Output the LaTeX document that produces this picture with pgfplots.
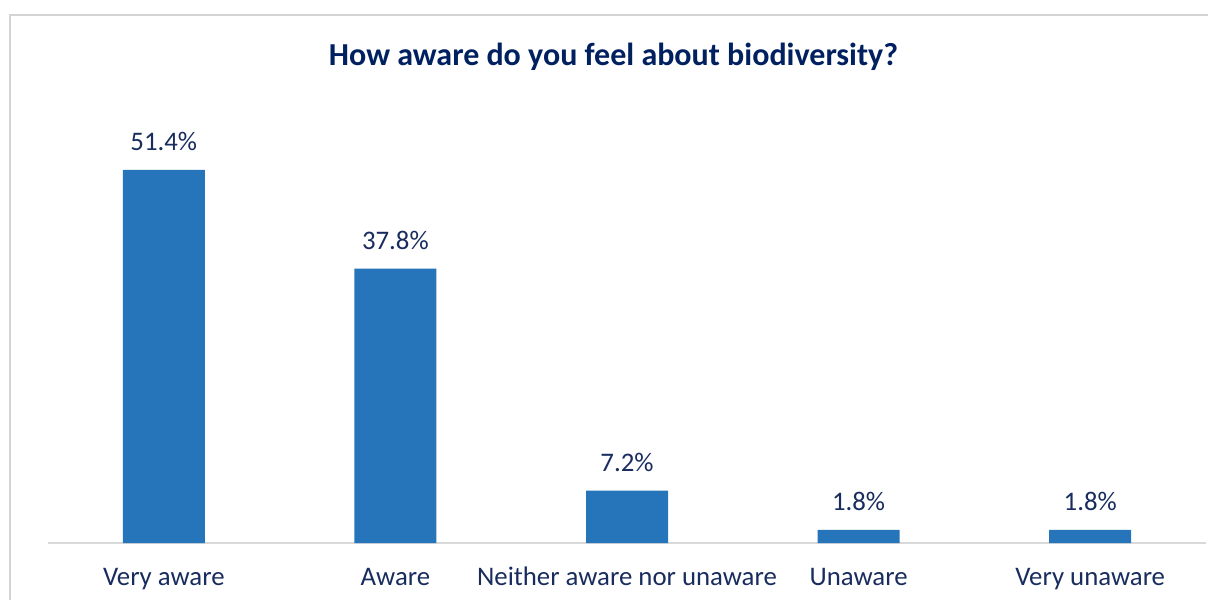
\documentclass[border=0pt]{standalone}
\usepackage{pgfplots}
\pgfplotsset{compat=1.18}
\usepackage{fontspec}
\setmainfont{Carlito}
\definecolor{barblue}{RGB}{38,116,186}
\definecolor{navy}{RGB}{24,44,94}
\definecolor{titlenavy}{RGB}{0,32,96}
\definecolor{framegray}{RGB}{212,212,212}
\definecolor{axisgray}{RGB}{217,217,217}
\begin{document}
\begin{tikzpicture}
\useasboundingbox (0pt,0pt) rectangle (604pt,299.5pt);
\draw[framegray, line width=1pt] (5pt,-5pt) -- (5pt,292pt) -- (610pt,292pt);
\node[anchor=base, font=\bfseries\fontsize{16}{19}\selectfont, text=titlenavy]
  at (306.75pt,266.5pt) {How aware do you feel about biodiversity?};
\begin{axis}[
  at={(24pt,28pt)}, anchor=south west,
  scale only axis, width=579pt, height=217.8pt,
  xmin=-0.5, xmax=4.5, ymin=0, ymax=60,
  axis x line=bottom, axis y line=none,
  axis line style={axisgray, line width=0.75pt, -},
  xtick={0,1,2,3,4},
  xticklabels={Very aware, Aware, Neither aware nor unaware, Unaware, Very unaware},
  major tick length=0pt,
  xticklabel style={anchor=base, yshift=-21pt, text=navy, font=\fontsize{13.4}{16}\selectfont},
  ytick=\empty,
  /pgf/number format/assume math mode=true,
  nodes near coords={\pgfmathprintnumber[fixed,precision=1,fixed zerofill]{\pgfplotspointmeta}\%},
  nodes near coords style={anchor=base, yshift=9.5pt, text=navy, font=\fontsize{13.4}{16}\selectfont},
]
\addplot[ybar, bar width=41pt, fill=barblue, draw=none] coordinates {
  (0,51.4) (1,37.8) (2,7.2) (3,1.8) (4,1.8)
};
\end{axis}
\end{tikzpicture}
\end{document}
